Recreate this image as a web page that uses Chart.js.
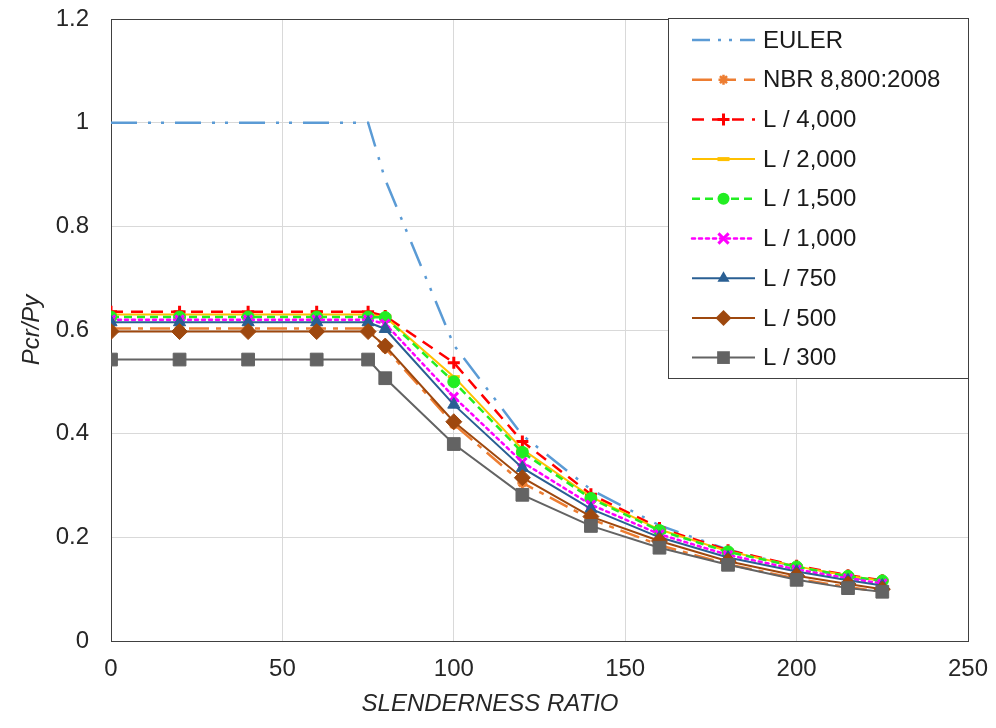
<!DOCTYPE html>
<html>
<head>
<meta charset="utf-8">
<script src="https://cdn.jsdelivr.net/npm/chart.js@4/dist/chart.umd.min.js"></script>
<style>
html,body{margin:0;padding:0;background:#fff;}
#wrap{width:996px;height:728px;position:relative;}
</style>
</head>
<body>
<div id="wrap"><canvas id="c" width="996" height="728"></canvas></div>
<script>
// ---- data ----
const slenderness = [0, 20, 40, 60, 75, 80, 100, 120, 140, 160, 180, 200, 215, 225];
const seriesNames = ['EULER', 'NBR 8,800:2008', 'L / 4,000', 'L / 2,000', 'L / 1,500', 'L / 1,000', 'L / 750', 'L / 500', 'L / 300'];
const euler   = [1, 1, 1, 1, 1, 0.89, 0.571, 0.397, 0.292, 0.223, 0.176, 0.143, 0.124, 0.113];
const nbr     = [0.603, 0.603, 0.603, 0.603, 0.603, 0.565, 0.418, 0.305, 0.235, 0.185, 0.148, 0.12, 0.104, 0.095];
const l4000   = [0.635, 0.635, 0.635, 0.635, 0.635, 0.627, 0.537, 0.385, 0.283, 0.218, 0.175, 0.145, 0.127, 0.117];
const l2000   = [0.63, 0.63, 0.63, 0.63, 0.63, 0.625, 0.51, 0.37, 0.278, 0.215, 0.173, 0.144, 0.126, 0.116];
const l1500   = [0.625, 0.625, 0.625, 0.625, 0.625, 0.624, 0.5, 0.364, 0.275, 0.213, 0.172, 0.143, 0.125, 0.116];
const l1000   = [0.62, 0.62, 0.62, 0.62, 0.62, 0.612, 0.471, 0.345, 0.263, 0.206, 0.166, 0.138, 0.121, 0.111];
const l750    = [0.615, 0.615, 0.615, 0.615, 0.615, 0.602, 0.456, 0.334, 0.255, 0.2, 0.161, 0.134, 0.117, 0.107];
const l500    = [0.597, 0.597, 0.597, 0.597, 0.597, 0.569, 0.423, 0.315, 0.24, 0.193, 0.154, 0.126, 0.11, 0.1];
const l300    = [0.543, 0.543, 0.543, 0.543, 0.543, 0.507, 0.38, 0.282, 0.222, 0.18, 0.147, 0.118, 0.102, 0.095];
const xTickLabels = ['0', '50', '100', '150', '200', '250'];
const yTickLabels = ['0', '0.2', '0.4', '0.6', '0.8', '1', '1.2'];
const xTitle = 'SLENDERNESS RATIO';
const yTitle = 'Pcr/Py';

// ---- styles ----
const styles = [
  {color:'#5B9BD5', dash:[26,11,3,10,3,11], point:'none', r:0, width:2.5},
  {color:'#ED7D31', dash:[20,7,5,7], point:'star', r:5, width:2.5},
  {color:'#FF0000', dash:[12,8], point:'cross', r:6, width:2.5},
  {color:'#FFC000', dash:[], point:'line', r:6, width:2},
  {color:'#22EE22', dash:[8,5], point:'circle', r:6, width:2.5},
  {color:'#FF00FF', dash:[3,4], point:'crossRot', r:6, width:2.5},
  {color:'#2A5F93', dash:[], point:'triangle', r:7, width:2},
  {color:'#9E480E', dash:[], point:'rectRot', r:8, width:2},
  {color:'#636363', dash:[], point:'rect', r:9, width:2}
];
const values = [euler, nbr, l4000, l2000, l1500, l1000, l750, l500, l300];

const datasets = values.map((v, i) => {
  const s = styles[i];
  return {
    label: seriesNames[i],
    data: slenderness.map((x, k) => ({x: x, y: v[k]})),
    borderColor: s.color,
    backgroundColor: s.color,
    borderWidth: s.width,
    borderDash: s.dash,
    borderCapStyle: i === 5 ? 'round' : 'butt',
    pointStyle: s.point === 'none' ? false : s.point,
    pointRadius: s.r,
    pointBorderWidth: (s.point === 'cross' || s.point === 'crossRot' || s.point === 'line' || s.point === 'star') ? 3 : 1,
    pointBorderColor: s.color,
    pointBackgroundColor: s.color,
    tension: 0,
    fill: false,
    order: 8 - i
  };
});

const FONT = '"Liberation Sans", Arial, sans-serif';
const FS = 24;

function drawMarker(ctx, style, r, x, y, color) {
  ctx.save();
  ctx.setLineDash([]);
  ctx.fillStyle = color;
  ctx.strokeStyle = color;
  ctx.beginPath();
  if (style === 'rect') {
    const h = Math.SQRT1_2 * r;
    ctx.rect(x - h, y - h, 2 * h, 2 * h);
    ctx.fill();
  } else if (style === 'rectRot') {
    ctx.moveTo(x - r, y); ctx.lineTo(x, y - r); ctx.lineTo(x + r, y); ctx.lineTo(x, y + r); ctx.closePath();
    ctx.fill();
  } else if (style === 'triangle') {
    ctx.moveTo(x - r * Math.cos(Math.PI/6) , y + r * 0.5);
    ctx.lineTo(x, y - r);
    ctx.lineTo(x + r * Math.cos(Math.PI/6), y + r * 0.5);
    ctx.closePath();
    ctx.fill();
  } else if (style === 'circle') {
    ctx.arc(x, y, r, 0, Math.PI * 2);
    ctx.fill();
  } else if (style === 'cross') {
    ctx.lineWidth = 3;
    ctx.moveTo(x - r, y); ctx.lineTo(x + r, y);
    ctx.moveTo(x, y - r); ctx.lineTo(x, y + r);
    ctx.stroke();
  } else if (style === 'crossRot') {
    ctx.lineWidth = 3;
    const d = r * Math.SQRT1_2 * 1.2;
    ctx.moveTo(x - d, y - d); ctx.lineTo(x + d, y + d);
    ctx.moveTo(x + d, y - d); ctx.lineTo(x - d, y + d);
    ctx.stroke();
  } else if (style === 'line') {
    ctx.lineWidth = 4;
    ctx.moveTo(x - r, y); ctx.lineTo(x + r, y);
    ctx.stroke();
  } else if (style === 'star') {
    ctx.lineWidth = 2.5;
    ctx.moveTo(x - r, y); ctx.lineTo(x + r, y);
    ctx.moveTo(x, y - r); ctx.lineTo(x, y + r);
    const d = r * Math.SQRT1_2;
    ctx.moveTo(x - d, y - d); ctx.lineTo(x + d, y + d);
    ctx.moveTo(x + d, y - d); ctx.lineTo(x - d, y + d);
    ctx.stroke();
  }
  ctx.restore();
}

const boxLegend = {
  id: 'boxLegend',
  afterDraw(chart) {
    const ctx = chart.ctx;
    const area = chart.chartArea;
    const right = area.right;
    const left = right - 300;
    const top = area.top - 1;
    const bottom = top + 360;
    ctx.save();
    ctx.fillStyle = '#fff';
    ctx.fillRect(left, top, right - left, bottom - top);
    ctx.strokeStyle = '#404040';
    ctx.lineWidth = 1;
    ctx.strokeRect(left + 0.5, top + 0.5, right - left, bottom - top);
    ctx.font = FS + 'px ' + FONT;
    ctx.textBaseline = 'middle';
    ctx.textAlign = 'left';
    chart.data.datasets.forEach((ds, i) => {
      const s = styles[i];
      const y = top + 22 + i * 39.7;
      const x1 = left + 24, x2 = left + 87;
      ctx.save();
      ctx.strokeStyle = s.color;
      ctx.lineWidth = s.width;
      ctx.lineCap = i === 5 ? 'round' : 'butt';
      ctx.setLineDash(i === 0 ? [18, 8, 3, 8, 3, 8] : (i === 1 ? [20, 14, 10, 8] : s.dash));
      ctx.beginPath();
      ctx.moveTo(x1, y); ctx.lineTo(x2, y);
      ctx.stroke();
      ctx.restore();
      if (s.point !== 'none') drawMarker(ctx, s.point, s.r, (x1 + x2) / 2, y, s.color);
      ctx.fillStyle = '#1a1a1a';
      ctx.fillText(ds.label, left + 95, y + 1);
    });
    ctx.restore();
  }
};

const axisTitles = {
  id: 'axisTitles',
  afterDraw(chart) {
    const ctx = chart.ctx;
    const area = chart.chartArea;
    ctx.save();
    ctx.fillStyle = '#262626';
    ctx.font = 'italic ' + FS + 'px ' + FONT;
    ctx.textAlign = 'center';
    ctx.textBaseline = 'middle';
    ctx.fillText(xTitle, 490, 704);
    ctx.translate(32, (area.top + area.bottom) / 2);
    ctx.rotate(-Math.PI / 2);
    ctx.fillText(yTitle, 0, 0);
    ctx.restore();
  }
};

const gridColor = (min, max) => (c) => {
  const v = c.tick ? c.tick.value : null;
  if (v === min || Math.abs(v - max) < 1e-9) return '#404040';
  return '#D9D9D9';
};

new Chart(document.getElementById('c'), {
  type: 'line',
  data: { datasets: datasets },
  options: {
    responsive: false,
    animation: false,
    layout: { padding: { left: 0, right: 28, top: 19, bottom: 0 } },
    plugins: { legend: { display: false }, tooltip: { enabled: false } },
    scales: {
      x: {
        type: 'linear', min: 0, max: 250,
        afterFit(scale) { scale.height = 87; scale.paddingLeft = 0; scale.paddingRight = 0; },
        ticks: {
          stepSize: 50, padding: 14, color: '#262626',
          font: { family: FONT, size: FS },
          callback: (v) => { const i = Math.round(v / 50); return xTickLabels[i] !== undefined ? xTickLabels[i] : ''; }
        },
        grid: { color: gridColor(0, 250), lineWidth: 1, drawTicks: false },
        border: { display: true, color: '#404040', width: 1 }
      },
      y: {
        min: 0, max: 1.2,
        afterFit(scale) { scale.width = 111; scale.paddingTop = 0; scale.paddingBottom = 0; },
        ticks: {
          stepSize: 0.2, padding: 22, color: '#262626',
          font: { family: FONT, size: FS },
          callback: (v) => { const i = Math.round(v / 0.2); return yTickLabels[i] !== undefined ? yTickLabels[i] : ''; }
        },
        grid: { color: gridColor(0, 1.2), lineWidth: 1, drawTicks: false },
        border: { display: true, color: '#404040', width: 1 }
      }
    }
  },
  plugins: [boxLegend, axisTitles]
});
</script>
</body>
</html>
